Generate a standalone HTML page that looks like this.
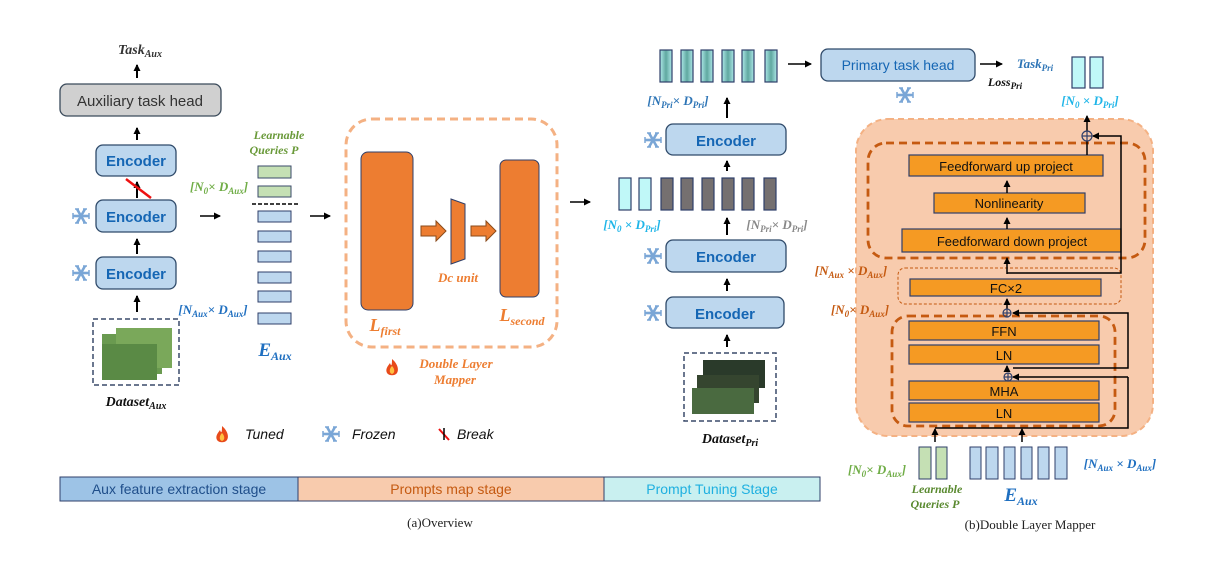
<!DOCTYPE html>
<html><head><meta charset="utf-8"><style>
html,body{margin:0;padding:0;background:#fff}
svg{display:block}
text{font-family:"Liberation Sans",sans-serif}
.s{font-family:"Liberation Serif",serif;font-style:italic;font-weight:bold}
.enc{fill:#bdd7ee;stroke:#2f4a6a;stroke-width:1.3}
.et{fill:#1566b4;font-size:15px;font-weight:bold;text-anchor:middle}
.ob{fill:#f59a23;stroke:#2f3f6a;stroke-width:1.2}
.ot{fill:#111;font-size:13px;text-anchor:middle}
</style></head><body>
<svg width="1222" height="567" viewBox="0 0 1222 567" xmlns="http://www.w3.org/2000/svg">
<defs>
<marker id="a" markerWidth="8" markerHeight="8" refX="6" refY="4" orient="auto" markerUnits="userSpaceOnUse"><path d="M0,0.5 L7,4 L0,7.5z" fill="#000"/></marker>
<linearGradient id="tg" x1="0" x2="1"><stop offset="0" stop-color="#aee8e8"/><stop offset="0.5" stop-color="#5fa8a0"/><stop offset="1" stop-color="#aee8e8"/></linearGradient>
<g id="snow" stroke="#7aa6d6" stroke-width="2.6"><line x1="-8" y1="0" x2="8" y2="0"/><line x1="-4" y1="-7" x2="4" y2="7"/><line x1="-4" y1="7" x2="4" y2="-7"/><g stroke-width="1.5"><line x1="-8" y1="-3" x2="-8" y2="3"/><line x1="8" y1="-3" x2="8" y2="3"/><line x1="-6" y1="-7" x2="-2" y2="-7"/><line x1="2" y1="7" x2="6" y2="7"/><line x1="2" y1="-7" x2="6" y2="-7"/><line x1="-6" y1="7" x2="-2" y2="7"/></g></g>
<g id="flame"><path d="M0,-8 C6,-3 7,3 5,6 C3,9 -3,9 -5,6 C-7,2 -4,-1 -2,-4 C-1,-1 0,0 0,-8z" fill="#e84a1a"/><path d="M0,-1 C3,2 3,6 0,7 C-3,6 -3,2 0,-1z" fill="#ffc040"/></g>
</defs>

<!-- Left column -->
<text x="140" y="54" class="s" font-size="14" text-anchor="middle" fill="#333">Task<tspan font-size="10" dy="3">Aux</tspan></text>
<line x1="137" y1="78" x2="137" y2="65" stroke="#000" stroke-width="2" marker-end="url(#a)"/>
<rect x="60" y="84" width="161" height="32" rx="7" fill="#d0d0d0" stroke="#3a4a5a" stroke-width="1.3"/>
<text x="140" y="106" font-size="15" text-anchor="middle" fill="#333">Auxiliary task head</text>
<line x1="137" y1="140" x2="137" y2="128" stroke="#000" stroke-width="2" marker-end="url(#a)"/>
<rect x="96" y="145" width="80" height="31" rx="7" class="enc"/><text x="136" y="166" class="et">Encoder</text>
<line x1="137" y1="198" x2="137" y2="182" stroke="#000" stroke-width="2" marker-end="url(#a)"/>
<line x1="126" y1="179" x2="151" y2="198" stroke="#ee1111" stroke-width="2.5"/>
<rect x="96" y="200" width="80" height="32" rx="7" class="enc"/><text x="136" y="222" class="et">Encoder</text>
<line x1="137" y1="254" x2="137" y2="239" stroke="#000" stroke-width="2" marker-end="url(#a)"/>
<rect x="96" y="257" width="80" height="32" rx="7" class="enc"/><text x="136" y="279" class="et">Encoder</text>
<line x1="137" y1="312" x2="137" y2="296" stroke="#000" stroke-width="2" marker-end="url(#a)"/>
<use href="#snow" x="81" y="216"/><use href="#snow" x="81" y="273"/>
<rect x="93" y="319" width="86" height="66" fill="none" stroke="#3a4a6a" stroke-width="1.5" stroke-dasharray="5,3"/>
<rect x="102" y="334" width="60" height="40" fill="#6a9a50"/><rect x="116" y="328" width="56" height="40" fill="#7aa85a"/><rect x="102" y="344" width="55" height="36" fill="#5a8a45"/>
<text x="136" y="406" class="s" font-size="14" text-anchor="middle" fill="#111">Dataset<tspan font-size="10" dy="3">Aux</tspan></text>

<line x1="200" y1="216" x2="220" y2="216" stroke="#000" stroke-width="1.5" marker-end="url(#a)"/>
<text x="279" y="139" class="s" font-size="12" text-anchor="middle" fill="#6a9a3a">Learnable</text>
<text x="274" y="154" class="s" font-size="12" text-anchor="middle" fill="#6a9a3a">Queries P</text>
<rect x="258" y="166" width="33" height="12" fill="#c5e0b4" stroke="#3a4a6a"/>
<rect x="258" y="186" width="33" height="11" fill="#c5e0b4" stroke="#3a4a6a"/>
<line x1="252" y1="204" x2="298" y2="204" stroke="#000" stroke-width="1.5" stroke-dasharray="4,2"/>
<g fill="#bdd7ee" stroke="#2f3f6a">
<rect x="258" y="211" width="33" height="11"/><rect x="258" y="231" width="33" height="11"/><rect x="258" y="251" width="33" height="11"/>
<rect x="258" y="272" width="33" height="11"/><rect x="258" y="291" width="33" height="11"/><rect x="258" y="313" width="33" height="11"/></g>
<text x="219" y="191" class="s" font-size="13" text-anchor="middle" fill="#70ad47" font-weight="normal">[N<tspan font-size="9" dy="3">0</tspan><tspan dy="-3">× D</tspan><tspan font-size="9" dy="3">Aux</tspan><tspan dy="-3">]</tspan></text>
<text x="213" y="314" class="s" font-size="13" text-anchor="middle" fill="#1f6fc0">[N<tspan font-size="9" dy="3">Aux</tspan><tspan dy="-3">× D</tspan><tspan font-size="9" dy="3">Aux</tspan><tspan dy="-3">]</tspan></text>
<text x="275" y="356" class="s" font-size="19" text-anchor="middle" fill="#1f6fc0">E<tspan font-size="12" dy="4">Aux</tspan></text>
<line x1="310" y1="216" x2="330" y2="216" stroke="#000" stroke-width="1.5" marker-end="url(#a)"/>

<!-- Mapper -->
<rect x="346" y="119" width="211" height="228" rx="26" fill="none" stroke="#f4b183" stroke-width="3" stroke-dasharray="8,5"/>
<rect x="361" y="152" width="52" height="158" rx="7" fill="#ed7d31" stroke="#2f3f6a"/>
<rect x="500" y="160" width="39" height="137" rx="6" fill="#ed7d31" stroke="#2f3f6a"/>
<path d="M451,199 L465,204 L465,259 L451,264z" fill="#ed7d31" stroke="#2f3f6a"/>
<path d="M421,226 L436,226 L436,221 L446,231 L436,241 L436,236 L421,236z" fill="#ed7d31" stroke="#8a4a1a"/>
<path d="M471,226 L486,226 L486,221 L496,231 L486,241 L486,236 L471,236z" fill="#ed7d31" stroke="#8a4a1a"/>
<text x="458" y="282" class="s" font-size="13" text-anchor="middle" fill="#ed7d31">Dc unit</text>
<text x="385" y="331" class="s" font-size="18" text-anchor="middle" fill="#ed7d31">L<tspan font-size="12" dy="4">first</tspan></text>
<text x="522" y="321" class="s" font-size="18" text-anchor="middle" fill="#ed7d31">L<tspan font-size="12" dy="4">second</tspan></text>
<use href="#flame" x="392" y="367"/>
<text x="456" y="368" class="s" font-size="13" text-anchor="middle" fill="#ed7d31">Double Layer</text>
<text x="455" y="384" class="s" font-size="13" text-anchor="middle" fill="#ed7d31">Mapper</text>

<!-- Legend -->
<use href="#flame" x="222" y="434"/><text x="245" y="439" font-size="14" font-style="italic" fill="#111">Tuned</text>
<use href="#snow" x="331" y="434"/><text x="352" y="439" font-size="14" font-style="italic" fill="#111">Frozen</text>
<line x1="439" y1="429" x2="449" y2="440" stroke="#e11" stroke-width="2"/><line x1="444" y1="440" x2="444" y2="428" stroke="#000" stroke-width="1.5"/>
<text x="457" y="439" font-size="14" font-style="italic" fill="#111">Break</text>

<!-- stage bar -->
<rect x="60" y="477" width="238" height="24" fill="#9dc3e6" stroke="#2f3f6a"/>
<rect x="298" y="477" width="306" height="24" fill="#f8cbad" stroke="#2f3f6a"/>
<rect x="604" y="477" width="216" height="24" fill="#c9f0f0" stroke="#2f3f6a"/>
<text x="179" y="494" font-size="14" text-anchor="middle" fill="#1f4e8a">Aux feature extraction stage</text>
<text x="451" y="494" font-size="14" text-anchor="middle" fill="#c55a11">Prompts map stage</text>
<text x="712" y="494" font-size="14" text-anchor="middle" fill="#1fb0e0">Prompt Tuning Stage</text>
<text x="440" y="527" font-size="13" text-anchor="middle" fill="#222" style="font-family:'Liberation Serif',serif">(a)Overview</text>
<text x="1030" y="529" font-size="13" text-anchor="middle" fill="#222" style="font-family:'Liberation Serif',serif">(b)Double Layer Mapper</text>

<!-- Middle -->
<line x1="570" y1="202" x2="590" y2="202" stroke="#000" stroke-width="1.5" marker-end="url(#a)"/>
<g stroke="#2f3f6a" stroke-width="1.2">
<rect x="619" y="178" width="12" height="32" fill="#c0f8f8"/><rect x="639" y="178" width="12" height="32" fill="#c0f8f8"/>
<g fill="#757070"><rect x="661" y="178" width="12" height="32"/><rect x="681" y="178" width="12" height="32"/><rect x="702" y="178" width="12" height="32"/><rect x="722" y="178" width="12" height="32"/><rect x="742" y="178" width="12" height="32"/><rect x="764" y="178" width="12" height="32"/></g>
<g fill="url(#tg)"><rect x="660" y="50" width="12" height="32"/><rect x="681" y="50" width="12" height="32"/><rect x="701" y="50" width="12" height="32"/><rect x="722" y="50" width="12" height="32"/><rect x="742" y="50" width="12" height="32"/><rect x="765" y="50" width="12" height="32"/></g>
</g>
<text x="632" y="229" class="s" font-size="13" text-anchor="middle" fill="#1fb5e8">[N<tspan font-size="9" dy="3">0</tspan><tspan dy="-3"> × D</tspan><tspan font-size="9" dy="3">Pri</tspan><tspan dy="-3">]</tspan></text>
<text x="777" y="229" class="s" font-size="13" text-anchor="middle" fill="#888" font-weight="normal">[N<tspan font-size="9" dy="3">Pri</tspan><tspan dy="-3">× D</tspan><tspan font-size="9" dy="3">Pri</tspan><tspan dy="-3">]</tspan></text>
<text x="678" y="105" class="s" font-size="13" text-anchor="middle" fill="#2e75b6">[N<tspan font-size="9" dy="3">Pri</tspan><tspan dy="-3">× D</tspan><tspan font-size="9" dy="3">Pri</tspan><tspan dy="-3">]</tspan></text>
<line x1="727" y1="118" x2="727" y2="98" stroke="#000" stroke-width="2" marker-end="url(#a)"/>
<rect x="666" y="124" width="120" height="31" rx="7" class="enc"/><text x="726" y="146" class="et">Encoder</text>
<line x1="727" y1="171" x2="727" y2="161" stroke="#000" stroke-width="2" marker-end="url(#a)"/>
<line x1="727" y1="235" x2="727" y2="218" stroke="#000" stroke-width="2" marker-end="url(#a)"/>
<rect x="666" y="240" width="120" height="32" rx="7" class="enc"/><text x="726" y="262" class="et">Encoder</text>
<line x1="727" y1="291" x2="727" y2="279" stroke="#000" stroke-width="2" marker-end="url(#a)"/>
<rect x="666" y="297" width="118" height="31" rx="7" class="enc"/><text x="725" y="319" class="et">Encoder</text>
<line x1="727" y1="347" x2="727" y2="335" stroke="#000" stroke-width="2" marker-end="url(#a)"/>
<use href="#snow" x="653" y="140"/><use href="#snow" x="653" y="256"/><use href="#snow" x="653" y="313"/>
<rect x="684" y="353" width="92" height="68" fill="none" stroke="#3a4a6a" stroke-width="1.5" stroke-dasharray="5,3"/>
<rect x="703" y="360" width="62" height="28" fill="#2a3a2a"/><rect x="697" y="375" width="62" height="28" fill="#35452f"/><rect x="692" y="388" width="62" height="26" fill="#4a6a40"/>
<text x="730" y="443" class="s" font-size="14" text-anchor="middle" fill="#111">Dataset<tspan font-size="10" dy="3">Pri</tspan></text>

<line x1="788" y1="64" x2="811" y2="64" stroke="#000" stroke-width="1.5" marker-end="url(#a)"/>
<rect x="821" y="49" width="154" height="32" rx="7" class="enc"/><text x="898" y="70" font-size="14" text-anchor="middle" fill="#1566b4">Primary task head</text>
<use href="#snow" x="905" y="95"/>
<line x1="980" y1="64" x2="1002" y2="64" stroke="#000" stroke-width="1.5" marker-end="url(#a)"/>
<text x="1035" y="68" class="s" font-size="13" text-anchor="middle" fill="#2e75b6">Task<tspan font-size="9" dy="3">Pri</tspan></text>
<text x="1005" y="86" class="s" font-size="12" text-anchor="middle" fill="#111">Loss<tspan font-size="9" dy="3">Pri</tspan></text>
<rect x="1072" y="57" width="13" height="31" fill="#c0f8f8" stroke="#2f3f6a" stroke-width="1.2"/>
<rect x="1090" y="57" width="13" height="31" fill="#c0f8f8" stroke="#2f3f6a" stroke-width="1.2"/>
<text x="1090" y="105" class="s" font-size="13" text-anchor="middle" fill="#1fb5e8">[N<tspan font-size="9" dy="3">0</tspan><tspan dy="-3"> × D</tspan><tspan font-size="9" dy="3">Pri</tspan><tspan dy="-3">]</tspan></text>

<!-- Right panel -->
<rect x="856" y="119" width="297" height="317" rx="32" fill="#f8cbad" stroke="#f4b183" stroke-width="2" stroke-dasharray="6,4"/>
<rect x="868" y="143" width="277" height="115" rx="18" fill="none" stroke="#c55a11" stroke-width="2.8" stroke-dasharray="8,5"/>
<rect x="898" y="268" width="223" height="36" rx="7" fill="none" stroke="#c55a11" stroke-width="1" stroke-dasharray="3,2"/>
<rect x="892" y="316" width="223" height="110" rx="16" fill="none" stroke="#c55a11" stroke-width="2.8" stroke-dasharray="8,5"/>
<rect x="909" y="155" width="194" height="21" class="ob"/><text x="1006" y="171" class="ot">Feedforward up project</text>
<rect x="934" y="193" width="151" height="20" class="ob"/><text x="1009" y="208" class="ot">Nonlinearity</text>
<rect x="902" y="229" width="219" height="23" class="ob"/><text x="1012" y="246" class="ot">Feedforward down project</text>
<rect x="910" y="279" width="191" height="17" class="ob"/><text x="1006" y="293" class="ot">FC×2</text>
<rect x="909" y="321" width="190" height="19" class="ob"/><text x="1004" y="336" class="ot">FFN</text>
<rect x="909" y="345" width="190" height="19" class="ob"/><text x="1004" y="360" class="ot">LN</text>
<rect x="909" y="381" width="190" height="19" class="ob"/><text x="1004" y="396" class="ot">MHA</text>
<rect x="909" y="403" width="190" height="19" class="ob"/><text x="1004" y="418" class="ot">LN</text>
<g stroke="#000" stroke-width="1.5" fill="none">
<line x1="1007" y1="193" x2="1007" y2="181" marker-end="url(#a)"/>
<line x1="1007" y1="229" x2="1007" y2="218" marker-end="url(#a)"/>
<line x1="1007" y1="274" x2="1007" y2="258" marker-end="url(#a)"/>
<line x1="1007" y1="309" x2="1007" y2="299" marker-end="url(#a)"/>
<line x1="1007" y1="372" x2="1007" y2="366" marker-end="url(#a)"/>
<line x1="1087" y1="155" x2="1087" y2="141"/>
<line x1="1087" y1="131" x2="1087" y2="116" marker-end="url(#a)"/>
<polyline points="1007,273 1121,273 1121,136 1093,136" marker-end="url(#a)"/>
<polyline points="1013,368 1128,368 1128,313 1013,313" marker-end="url(#a)"/>
<polyline points="1128,377 1128,428 935,428"/>
<line x1="1128" y1="377" x2="1013" y2="377" marker-end="url(#a)"/>
<line x1="935" y1="442" x2="935" y2="429" marker-end="url(#a)"/>
<line x1="1022" y1="442" x2="1022" y2="429" marker-end="url(#a)"/>
</g>
<g stroke="#2f3f6a" stroke-width="1.2" fill="none">
<circle cx="1087" cy="136" r="5"/><line x1="1082" y1="136" x2="1092" y2="136"/><line x1="1087" y1="131" x2="1087" y2="141"/>
<circle cx="1007" cy="313" r="4"/><line x1="1003" y1="313" x2="1011" y2="313"/><line x1="1007" y1="309" x2="1007" y2="317"/>
<circle cx="1008" cy="377" r="4"/><line x1="1004" y1="377" x2="1012" y2="377"/><line x1="1008" y1="373" x2="1008" y2="381"/>
</g>
<text x="851" y="275" class="s" font-size="13" text-anchor="middle" fill="#c55a11" font-weight="normal">[N<tspan font-size="9" dy="3">Aux</tspan><tspan dy="-3"> × D</tspan><tspan font-size="9" dy="3">Aux</tspan><tspan dy="-3">]</tspan></text>
<text x="860" y="314" class="s" font-size="13" text-anchor="middle" fill="#c55a11" font-weight="normal">[N<tspan font-size="9" dy="3">0</tspan><tspan dy="-3">× D</tspan><tspan font-size="9" dy="3">Aux</tspan><tspan dy="-3">]</tspan></text>
<rect x="919" y="447" width="12" height="32" fill="#c5e0b4" stroke="#2f3f6a"/>
<rect x="936" y="447" width="11" height="32" fill="#c5e0b4" stroke="#2f3f6a"/>
<g fill="#bdd7ee" stroke="#2f3f6a">
<rect x="970" y="447" width="11" height="32"/><rect x="986" y="447" width="12" height="32"/><rect x="1004" y="447" width="11" height="32"/><rect x="1021" y="447" width="11" height="32"/><rect x="1038" y="447" width="11" height="32"/><rect x="1055" y="447" width="12" height="32"/></g>
<text x="877" y="474" class="s" font-size="13" text-anchor="middle" fill="#70ad47" font-weight="normal">[N<tspan font-size="9" dy="3">0</tspan><tspan dy="-3">× D</tspan><tspan font-size="9" dy="3">Aux</tspan><tspan dy="-3">]</tspan></text>
<text x="937" y="493" class="s" font-size="12" text-anchor="middle" fill="#5a8a30">Learnable</text>
<text x="935" y="508" class="s" font-size="12" text-anchor="middle" fill="#5a8a30">Queries P</text>
<text x="1021" y="501" class="s" font-size="19" text-anchor="middle" fill="#1f6fc0">E<tspan font-size="12" dy="4">Aux</tspan></text>
<text x="1120" y="468" class="s" font-size="13" text-anchor="middle" fill="#1f6fc0" font-weight="normal">[N<tspan font-size="9" dy="3">Aux</tspan><tspan dy="-3"> × D</tspan><tspan font-size="9" dy="3">Aux</tspan><tspan dy="-3">]</tspan></text>
</svg>
</body></html>
